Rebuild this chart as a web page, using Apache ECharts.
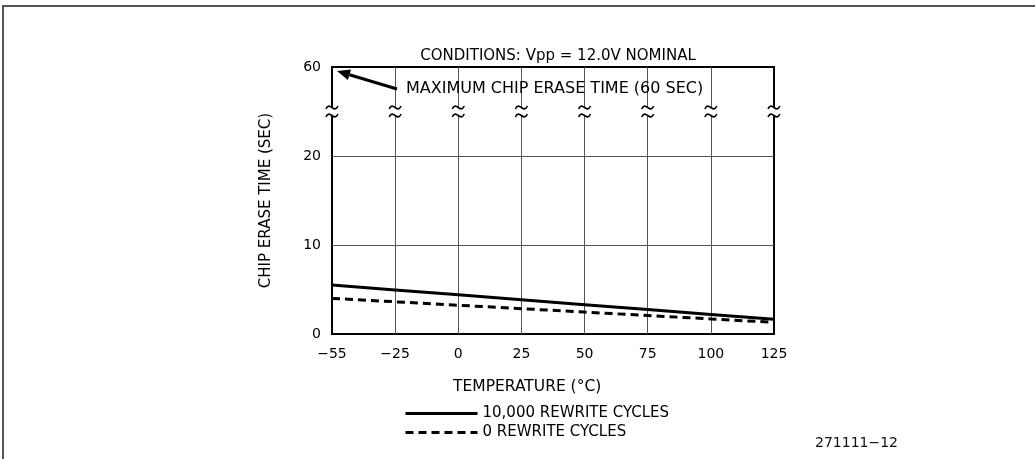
<!DOCTYPE html>
<html>
<head>
<meta charset="utf-8">
<script src="https://cdn.jsdelivr.net/npm/echarts@6/dist/echarts.min.js"></script>
<style>html,body{margin:0;padding:0;background:#fff}#c{width:1035px;height:459px}</style>
</head>
<body>
<div id="c"></div>
<script>
// ---- data ----
const temps = ['-55', '-25', '0', '25', '50', '75', '100', '125'];
const rewrite10k = [5.5, 4.95, 4.4, 3.85, 3.3, 2.75, 2.2, 1.65];
const rewrite0 = [4.0, 3.62, 3.23, 2.85, 2.46, 2.08, 1.69, 1.31];
// y axis is broken: axis value 30 is shown as 60
const yTickLabels = { 0: '0', 10: '10', 20: '20', 30: '60' };
const breakValue = 25;
const seriesNames = ['10,000 REWRITE CYCLES', '0 REWRITE CYCLES'];

const FONT = 'DejaVu Sans, sans-serif';
const chart = echarts.init(document.getElementById('c'));

function brk(params, api) {
  const p = api.coord([api.value(0), api.value(1)]);
  const x = p[0], y = p[1];
  const wave = (dy) => ({
    type: 'bezierCurve',
    shape: { x1: x - 6, y1: y + dy + 1.5, cpx1: x - 2, cpy1: y + dy - 7, cpx2: x + 2, cpy2: y + dy + 7, x2: x + 6, y2: y + dy - 1.5 },
    style: { stroke: '#000', lineWidth: 1.6, fill: null }
  });
  return {
    type: 'group',
    children: [
      { type: 'rect', shape: { x: x - 8, y: y - 4, width: 16, height: 8 }, style: { fill: '#fff' } },
      wave(-4), wave(4)
    ]
  };
}

chart.setOption({
  animation: false,
  backgroundColor: '#fff',
  grid: { left: 332, right: 261, top: 67, bottom: 125, show: true, borderColor: '#000', borderWidth: 2, backgroundColor: 'transparent' },
  title: {
    text: 'CONDITIONS: Vpp = 12.0V NOMINAL',
    left: 553, top: 44, textAlign: 'center',
    textStyle: { fontFamily: FONT, fontSize: 15, fontWeight: 'normal', color: '#000' }
  },
  legend: {
    orient: 'vertical', left: 399, top: 401,
    itemWidth: 72, itemHeight: 14, itemGap: 4,
    data: seriesNames,
    itemStyle: { opacity: 0 },
    lineStyle: { width: 3 },
    textStyle: { fontFamily: FONT, fontSize: 15, color: '#000' }
  },
  xAxis: {
    type: 'category', data: temps, boundaryGap: false,
    axisLine: { show: false }, axisTick: { show: false },
    axisLabel: { fontFamily: FONT, fontSize: 14, color: '#000', margin: 13, formatter: v => v.replace('-', '\u2212') },
    splitLine: { show: true, interval: (i) => i > 0 && i < temps.length - 1, lineStyle: { color: '#555', width: 1 } }
  },
  yAxis: {
    type: 'value', min: 0, max: 30, interval: 10,
    axisLine: { show: false }, axisTick: { show: false },
    axisLabel: { fontFamily: FONT, fontSize: 14, color: '#000', margin: 11, formatter: v => yTickLabels[v] },
    splitLine: { show: true, showMinLine: false, showMaxLine: false, lineStyle: { color: '#555', width: 1 } },
    name: 'CHIP ERASE TIME (SEC)', nameLocation: 'middle', nameGap: 58, nameRotate: 90,
    nameTextStyle: { fontFamily: FONT, fontSize: 15, color: '#000' }
  },
  series: [
    { name: seriesNames[0], type: 'line', data: rewrite10k, symbol: 'none', z: 3,
      lineStyle: { color: '#000', width: 3 }, itemStyle: { color: '#000' } },
    { name: seriesNames[1], type: 'line', data: rewrite0, symbol: 'none', z: 3,
      lineStyle: { color: '#000', width: 3, type: [8, 5] }, itemStyle: { color: '#000' } },
    { type: 'custom', silent: true, clip: false, z: 5, renderItem: brk,
      data: temps.map((t, i) => [i, breakValue]) }
  ]
});

// annotations positioned from the axes
const tip = chart.convertToPixel({ gridIndex: 0 }, [0, 30]);
const tx = tip[0] + 5, ty = tip[1] + 4;
const sx = tx + 60, sy = ty + 18;
const ang = Math.atan2(sy - ty, sx - tx);
const ah = 13, aw = 5.5;
const bx = tx + ah * Math.cos(ang), by = ty + ah * Math.sin(ang);
const plotBottom = chart.convertToPixel({ gridIndex: 0 }, [0, 0])[1];
chart.setOption({
  graphic: [
    { type: 'polyline', shape: { points: [[3, 470], [3, 6], [1040, 6]] }, style: { stroke: '#555', lineWidth: 2, fill: null } },
    { type: 'line', shape: { x1: sx, y1: sy, x2: bx, y2: by }, style: { stroke: '#000', lineWidth: 3 } },
    { type: 'polygon', shape: { points: [[tx, ty],
        [bx + aw * Math.sin(ang), by - aw * Math.cos(ang)],
        [bx - aw * Math.sin(ang), by + aw * Math.cos(ang)]] }, style: { fill: '#000' } },
    { type: 'text', x: sx + 9, y: sy, style: { text: 'MAXIMUM CHIP ERASE TIME (60 SEC)', fontFamily: FONT, fontSize: 16, fill: '#000', verticalAlign: 'middle' } },
    { type: 'text', x: 453, y: plotBottom + 53, style: { text: 'TEMPERATURE (°C)', fontFamily: FONT, fontSize: 15.5, fill: '#000', verticalAlign: 'middle' } },
    { type: 'text', x: 815, y: 443, style: { text: '271111\u221212', fontFamily: FONT, fontSize: 14, fill: '#111', verticalAlign: 'middle' } }
  ]
});
</script>
</body>
</html>
